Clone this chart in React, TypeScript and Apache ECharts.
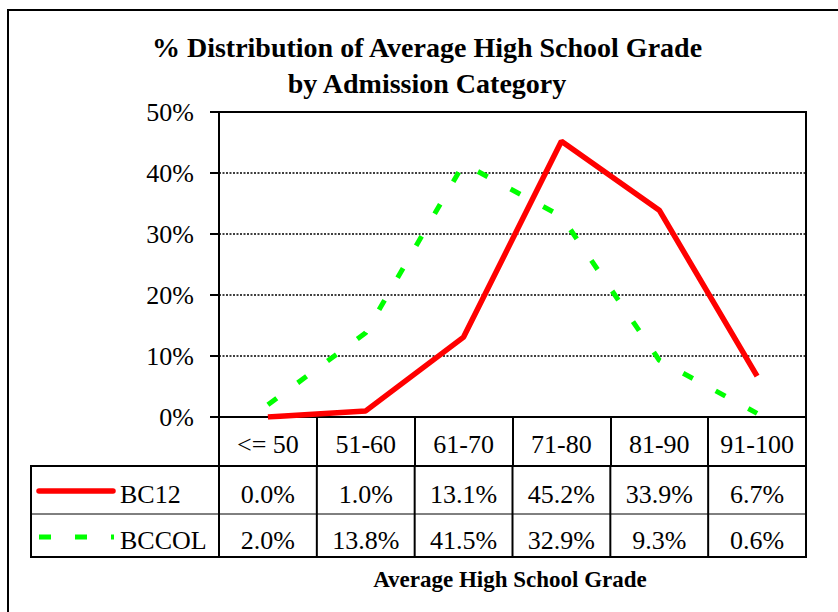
import React, { useEffect, useRef } from "react";
import * as echarts from "echarts";

const categories = ["<= 50", "51-60", "61-70", "71-80", "81-90", "91-100"];
const seriesNames = ["BC12", "BCCOL"];
const bc12 = [0.0, 1.0, 13.1, 45.2, 33.9, 6.7];
const bccol = [2.0, 13.8, 41.5, 32.9, 9.3, 0.6];
const titleLines = ["% Distribution of Average High School Grade", "by Admission Category"];
const xAxisTitle = "Average High School Grade";

const FONT = "'Liberation Serif', 'Times New Roman', serif";
const W = 838;
const H = 612;
const GRID = { left: 219, right: 32, top: 112, bottom: 195 };
const ROW1_TOP = 466;
const ROW2_TOP = 514;
const TABLE_BOTTOM = 557;
const TABLE_LEFT = 31;
const LABEL_SIZE = 26;

export default function App() {
  const ref = useRef<HTMLDivElement>(null);
  useEffect(() => {
    if (!ref.current) return;
    const chart = echarts.init(ref.current, undefined, { renderer: "svg" });
    const option: any = {
      animation: false,
      backgroundColor: "#fff",
      title: {
        text: titleLines.join("\n"),
        left: 427,
        top: 29,
        padding: 0,
        textAlign: "center",
        textStyle: { fontFamily: FONT, fontSize: 28, fontWeight: "bold", color: "#000", lineHeight: 36 },
      },
      grid: { ...GRID, show: true, borderColor: "#000", borderWidth: 2, backgroundColor: "transparent" },
      xAxis: {
        type: "category",
        data: categories,
        boundaryGap: true,
        axisLine: { show: true, lineStyle: { color: "#000", width: 2 } },
        axisTick: { show: true, length: ROW1_TOP - (H - GRID.bottom), lineStyle: { color: "#000", width: 2 } },
        axisLabel: { interval: 0, fontFamily: FONT, fontSize: LABEL_SIZE, color: "#000", margin: 14 },
        splitLine: { show: false },
      },
      yAxis: {
        type: "value",
        min: 0,
        max: 50,
        interval: 10,
        axisLine: { show: true, lineStyle: { color: "#000", width: 2 } },
        axisTick: { show: true, length: 9, lineStyle: { color: "#000", width: 2 } },
        axisLabel: { formatter: "{value}%", fontFamily: FONT, fontSize: LABEL_SIZE, color: "#000", margin: 25 },
        splitLine: { show: true, lineStyle: { color: "#000", width: 1.5, type: [2, 1.5] } },
      },
      series: [
        {
          name: seriesNames[0],
          type: "line",
          data: bc12,
          showSymbol: false,
          symbol: "none",
          lineStyle: { color: "#ff0000", width: 5.5 },
          z: 3,
        },
        {
          name: seriesNames[1],
          type: "line",
          data: bccol,
          showSymbol: false,
          symbol: "none",
          lineStyle: { color: "#00ff00", width: 5, type: [11, 26], cap: "butt" },
          z: 2,
        },
      ],
    };
    chart.setOption(option);

    const xs = categories.map((c) => chart.convertToPixel({ xAxisIndex: 0 }, c) as number);
    const half = xs.length > 1 ? (xs[1] - xs[0]) / 2 : 49;
    const bounds = [xs[0] - half, ...xs.map((x) => x + half)];
    const right = bounds[bounds.length - 1];
    const fmt = (v: number) => v.toFixed(1) + "%";
    const els: any[] = [];
    els.push({ type: "rect", shape: { x: 8, y: 10, width: W + 10, height: H + 10 }, style: { fill: "none", stroke: "#000", lineWidth: 2 }, silent: true });
    els.push({ type: "rect", shape: { x: TABLE_LEFT, y: ROW1_TOP, width: right - TABLE_LEFT, height: TABLE_BOTTOM - ROW1_TOP }, style: { fill: "none", stroke: "#000", lineWidth: 2 } });
    els.push({ type: "line", shape: { x1: TABLE_LEFT, y1: ROW2_TOP, x2: right, y2: ROW2_TOP }, style: { stroke: "#000", lineWidth: 1 } });
    bounds.slice(0, -1).forEach((bx) => {
      els.push({ type: "line", shape: { x1: bx, y1: ROW1_TOP, x2: bx, y2: TABLE_BOTTOM }, style: { stroke: "#000", lineWidth: 2 } });
    });
    const rows = [
      { name: seriesNames[0], data: bc12, y: 494 },
      { name: seriesNames[1], data: bccol, y: 540 },
    ];
    rows.forEach((r, ri) => {
      r.data.forEach((v, i) => {
        els.push({ type: "text", x: xs[i], y: r.y, style: { text: fmt(v), fontFamily: FONT, fontSize: LABEL_SIZE, fill: "#000", align: "center", verticalAlign: "middle" } });
      });
      els.push({ type: "text", x: 120, y: r.y, style: { text: r.name, fontFamily: FONT, fontSize: LABEL_SIZE, fill: "#000", align: "left", verticalAlign: "middle" } });
      if (ri === 0) {
        els.push({ type: "line", shape: { x1: 39, y1: r.y - 3, x2: 113, y2: r.y - 3 }, style: { stroke: "#ff0000", lineWidth: 5.5, lineCap: "round" } });
      } else {
        els.push({ type: "line", shape: { x1: 39, y1: r.y - 3, x2: 114, y2: r.y - 3 }, style: { stroke: "#00ff00", lineWidth: 5, lineDash: [12, 24], lineCap: "butt" } });
      }
    });
    els.push({ type: "text", x: 510, y: 579, style: { text: xAxisTitle, fontFamily: FONT, fontSize: 23, fontWeight: "bold", fill: "#000", align: "center", verticalAlign: "middle" } });
    chart.setOption({ graphic: { elements: els } });
    return () => chart.dispose();
  }, []);
  return <div ref={ref} style={{ position: "absolute", left: 0, top: 0, width: W, height: H }} />;
}
